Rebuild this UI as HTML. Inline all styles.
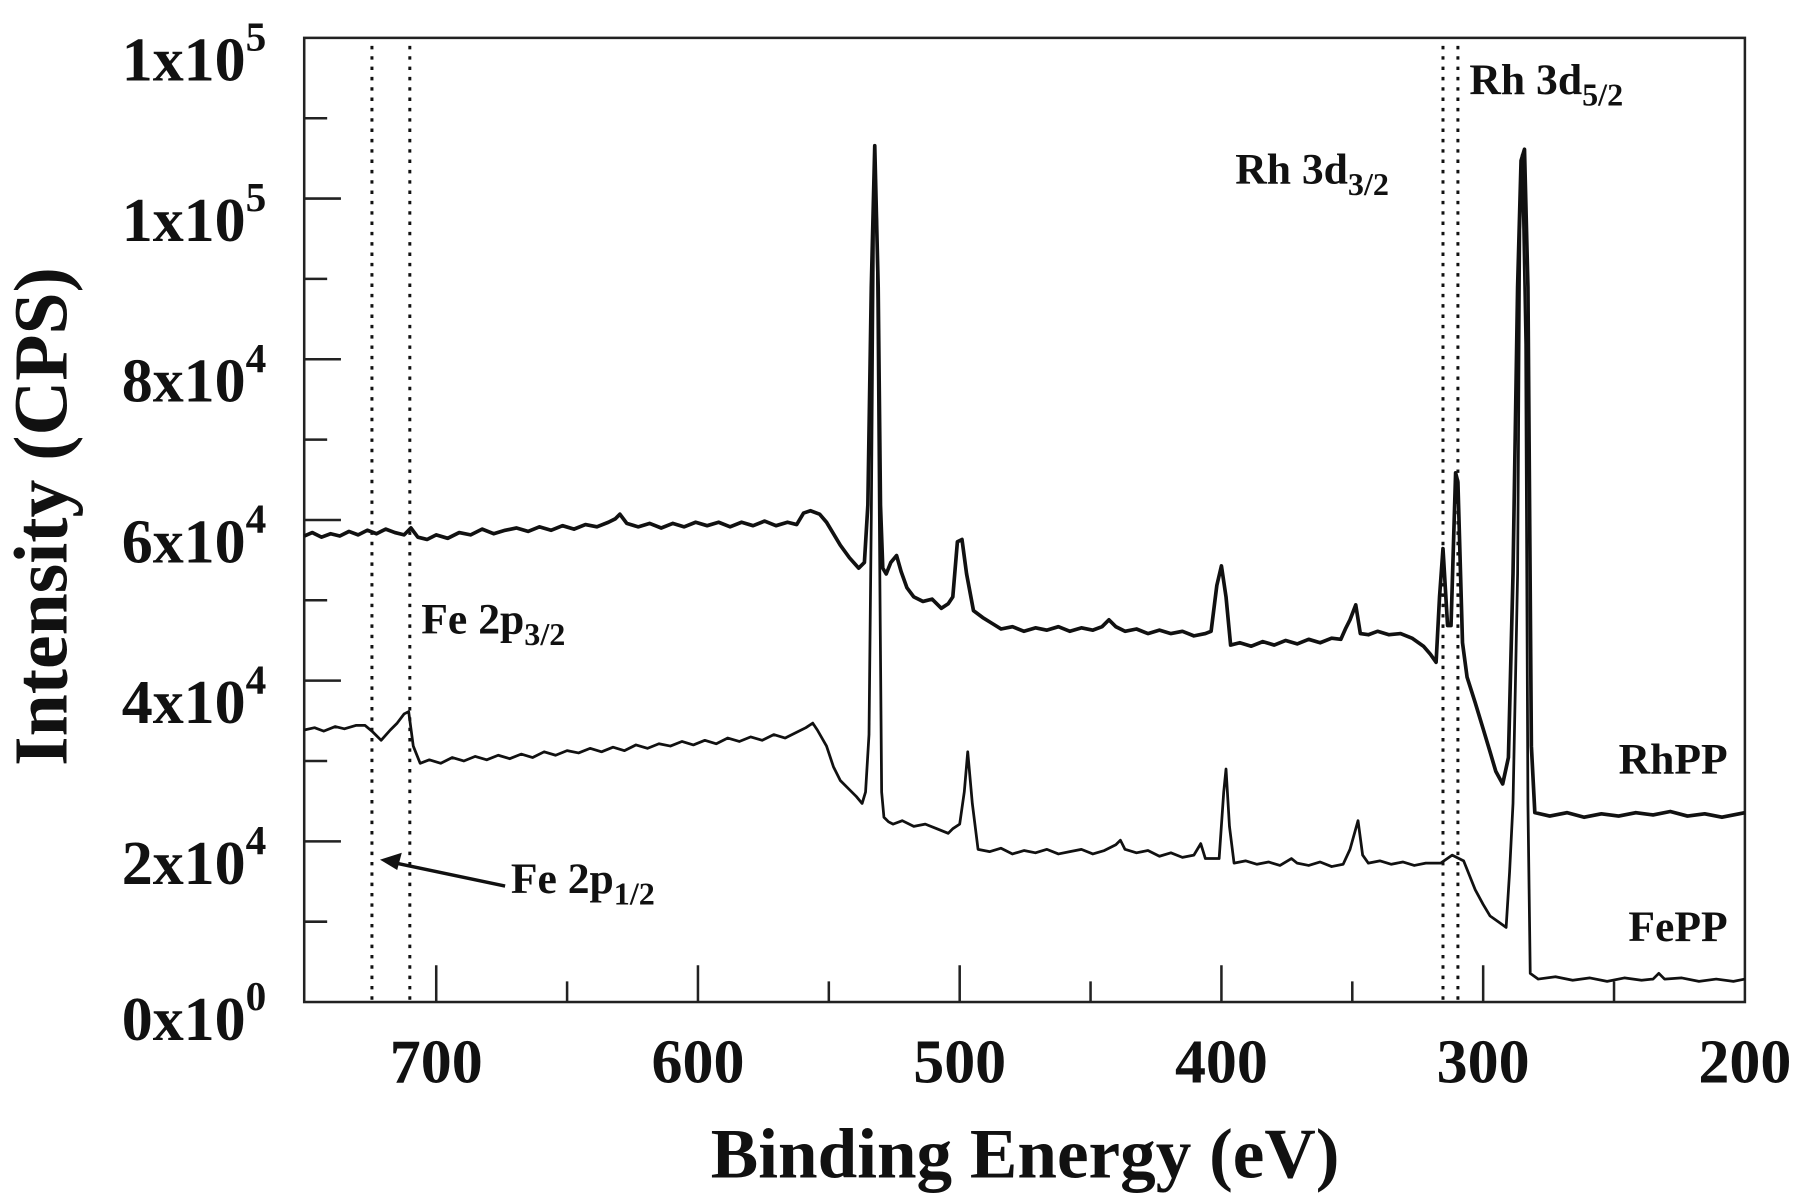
<!DOCTYPE html>
<html><head><meta charset="utf-8"><style>
html,body{margin:0;padding:0;background:#fff;}
svg{display:block;}
text{font-family:"Liberation Serif",serif;font-weight:bold;fill:#111;}
</style></head><body>
<svg width="1800" height="1196" viewBox="0 0 1568 1042" preserveAspectRatio="none" xmlns="http://www.w3.org/2000/svg">
<g stroke="#222" stroke-width="2.2" fill="none">
<rect x="265" y="33" width="1255" height="840"/>
<path d="M265 173h32M265 313h32M265 453h32M265 593h32M265 733h32M265 103h20M265 243h20M265 383h20M265 523h20M265 663h20M265 803h20"/>
<path d="M380 873v-32M608 873v-32M836 873v-32M1064 873v-32M1292 873v-32M494 873v-18M722 873v-18M950 873v-18M1178 873v-18M1406 873v-18"/>
</g>
<g stroke="#111" stroke-width="2.6" stroke-dasharray="3,6" fill="none">
<path d="M324 40V873M357 40V873M1257 40V873M1270 40V873"/>
</g>
<polyline fill="none" stroke="#111" stroke-width="3.2" stroke-linejoin="round" points="265,467 272,464 280,468 288,465 296,467 304,463 312,466 320,462 328,465 336,461 344,464 352,466 358,460 364,468 372,470 380,466 390,469 400,464 410,466 420,461 430,465 440,462 450,460 460,463 470,459 480,462 490,458 500,461 510,457 520,459 530,455 536,452 540,448 546,456 556,459 566,456 576,460 586,456 596,459 606,455 616,458 626,455 636,459 646,455 656,458 666,454 676,458 686,455 694,457 700,447 706,445 714,448 720,455 726,465 732,475 740,486 748,495 753,490 756,440 759,250 762,127 765,250 767,440 769,495 772,500 776,490 781,484 785,498 790,512 796,520 804,524 812,522 820,530 826,526 830,520 834,472 838,470 842,500 848,532 856,538 864,543 872,548 882,546 892,550 902,547 912,549 922,546 932,550 942,547 952,549 960,546 966,540 972,546 980,550 990,548 1000,552 1010,549 1020,552 1030,550 1040,554 1050,552 1055,550 1060,510 1064,493 1068,520 1072,562 1080,560 1090,563 1100,559 1110,562 1120,558 1130,561 1140,557 1150,560 1160,556 1168,557 1172,548 1176,540 1181,527 1185,552 1192,553 1200,550 1210,553 1220,552 1230,556 1240,563 1246,570 1251,577 1254,520 1257,478 1261,545 1264,545 1268,412 1270,420 1274,560 1278,590 1285,612 1292,635 1298,655 1303,672 1309,683 1314,660 1318,500 1322,250 1325,140 1328,130 1331,250 1334,650 1337,708 1350,711 1365,708 1380,712 1395,709 1410,711 1425,708 1440,710 1455,707 1470,711 1485,709 1500,712 1510,710 1520,708"/>
<polyline fill="none" stroke="#111" stroke-width="2.4" stroke-linejoin="round" points="265,636 274,634 282,637 292,633 300,635 310,632 318,632 324,637 332,645 340,636 346,630 352,622 356,620 360,650 366,665 374,662 384,665 394,660 404,663 414,659 424,662 434,658 444,661 454,657 464,660 474,655 484,658 494,654 504,656 514,652 524,655 534,651 544,654 554,649 564,652 574,648 584,650 594,646 604,649 614,645 624,648 634,643 644,646 654,642 664,645 674,640 684,643 694,638 702,634 708,630 712,636 720,650 726,668 732,680 740,688 746,694 751,700 754,690 757,640 759,450 761,200 762,135 764,200 766,450 768,690 770,712 774,716 778,718 786,715 796,720 806,718 816,722 826,726 830,722 836,718 840,690 843,655 847,700 852,740 862,742 872,739 882,744 892,741 902,743 912,740 922,744 932,742 942,740 952,744 962,741 972,736 976,732 980,740 990,743 1000,741 1010,746 1020,743 1030,747 1040,745 1046,735 1050,748 1062,748 1066,690 1068,670 1071,720 1075,752 1085,750 1095,753 1105,751 1115,754 1125,748 1130,752 1140,754 1150,751 1160,755 1170,753 1176,740 1183,715 1187,745 1192,752 1202,750 1212,753 1222,751 1232,754 1242,752 1255,752 1265,745 1275,750 1285,775 1292,788 1298,798 1305,803 1312,808 1315,760 1318,700 1322,500 1324,200 1326,135 1329,300 1331,700 1333,848 1340,853 1355,851 1370,854 1385,852 1400,855 1415,852 1430,854 1440,853 1445,848 1450,853 1465,852 1480,855 1495,853 1510,855 1520,853"/>
<path d="M440 772L340 751" stroke="#111" stroke-width="3"/>
<path d="M331 749L350 743L346 758Z" fill="#111"/>
<g font-size="54" text-anchor="end">
<text x="232" y="70">1x10<tspan font-size="36" dy="-26">5</tspan></text>
<text x="232" y="210">1x10<tspan font-size="36" dy="-26">5</tspan></text>
<text x="232" y="350">8x10<tspan font-size="36" dy="-26">4</tspan></text>
<text x="232" y="490">6x10<tspan font-size="36" dy="-26">4</tspan></text>
<text x="232" y="630">4x10<tspan font-size="36" dy="-26">4</tspan></text>
<text x="232" y="770">2x10<tspan font-size="36" dy="-26">4</tspan></text>
<text x="232" y="906">0x10<tspan font-size="36" dy="-26">0</tspan></text>
</g>
<g font-size="54" text-anchor="middle">
<text x="380" y="943">700</text><text x="608" y="943">600</text><text x="836" y="943">500</text>
<text x="1064" y="943">400</text><text x="1292" y="943">300</text><text x="1520" y="943">200</text>
</g>
<text x="893" y="1026" font-size="62" text-anchor="middle">Binding Energy (eV)</text>
<text transform="translate(58,450) rotate(-90)" font-size="66" text-anchor="middle">Intensity (CPS)</text>
<g font-size="38">
<text x="1280" y="82">Rh 3d<tspan font-size="28" dy="10">5/2</tspan></text>
<text x="1076" y="160">Rh 3d<tspan font-size="28" dy="10">3/2</tspan></text>
<text x="367" y="552">Fe 2p<tspan font-size="28" dy="10">3/2</tspan></text>
<text x="445" y="778">Fe 2p<tspan font-size="28" dy="10">1/2</tspan></text>
<text x="1505" y="674" text-anchor="end">RhPP</text>
<text x="1505" y="820" text-anchor="end">FePP</text>
</g>
</svg>
</body></html>
